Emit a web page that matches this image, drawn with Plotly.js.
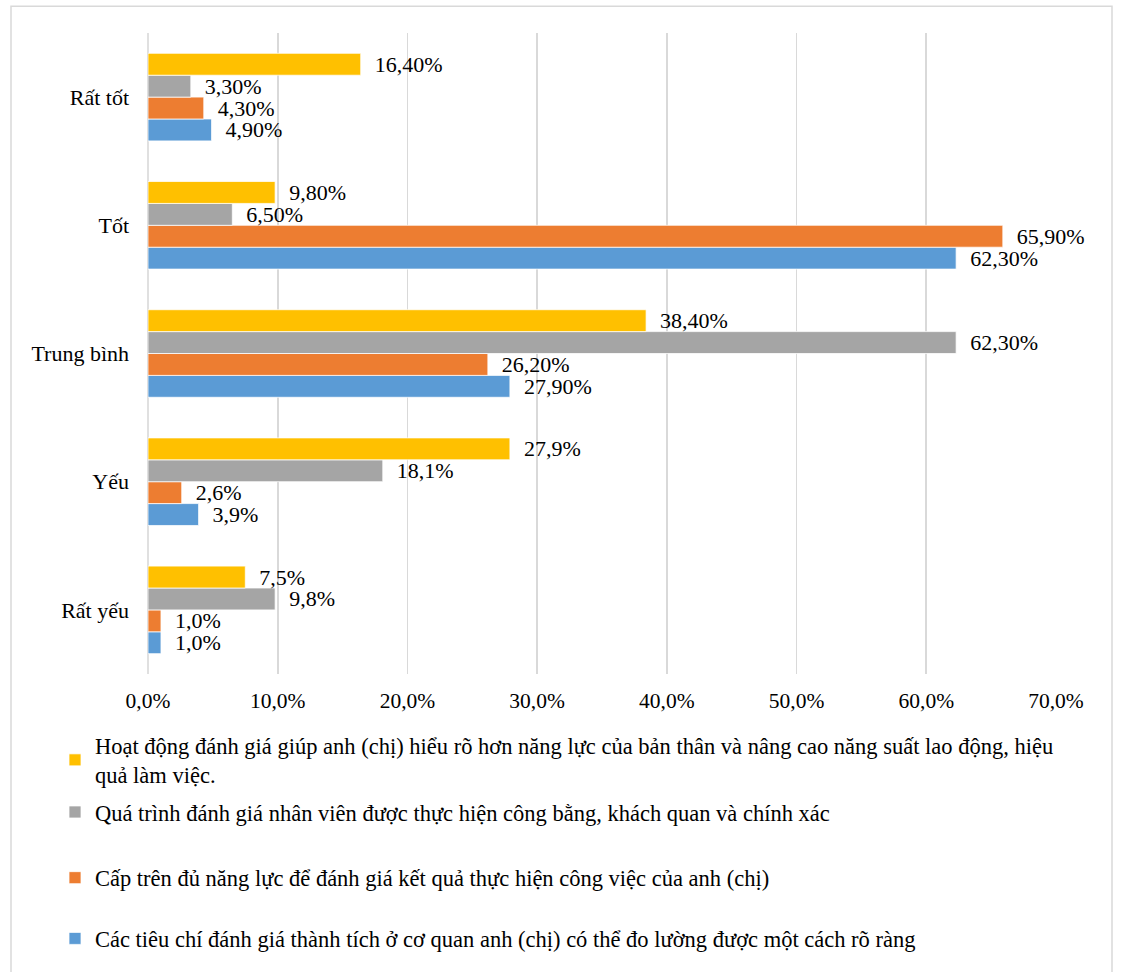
<!DOCTYPE html>
<html>
<head>
<meta charset="utf-8">
<script src="https://cdn.plot.ly/plotly-3.0.1.min.js"></script>
<style>
  html, body { margin: 0; padding: 0; background: #fff; }
  #chart { width: 1121px; height: 972px; }
</style>
</head>
<body>
<div id="chart"></div>
<script>
// Categories listed bottom-to-top (Plotly draws the first category at the bottom)
const categories = ["Rất yếu", "Yếu", "Trung bình", "Tốt", "Rất tốt"];
// Number of decimals shown in the data labels for each category
const labelDecimals = [1, 1, 2, 2, 2];

const seriesNames = [
  "Các tiêu chí đánh giá thành tích ở cơ quan anh (chị) có thể đo lường được một cách rõ ràng",
  "Cấp trên đủ năng lực để đánh giá kết quả thực hiện công việc của anh (chị)",
  "Quá trình đánh giá nhân viên được thực hiện công bằng, khách quan và chính xác",
  "Hoạt động đánh giá giúp anh (chị) hiểu rõ hơn năng lực của bản thân và nâng cao năng suất lao động, hiệu<br>quả làm việc."
];

// Values in percent, same order as categories
const blueValues   = [1.0, 3.9, 27.9, 62.3, 4.9];
const orangeValues = [1.0, 2.6, 26.2, 65.9, 4.3];
const grayValues   = [9.8, 18.1, 62.3, 6.5, 3.3];
const yellowValues = [7.5, 27.9, 38.4, 9.8, 16.4];

const xTickValues = [0, 10, 20, 30, 40, 50, 60, 70];
const xTickLabels = xTickValues.map(v => v.toFixed(1).replace(".", ",") + "%");

const colors = ["#5B9BD5", "#ED7D31", "#A5A5A5", "#FFC000"];
const allValues = [blueValues, orangeValues, grayValues, yellowValues];
const legendIds = ["legend4", "legend3", "legend2", "legend"];

const FONT = "Liberation Serif";

function fmt(v, d) {
  return "\u00a0\u00a0" + v.toFixed(d).replace(".", ",") + "%";
}

const traces = allValues.map((vals, i) => ({
  type: "bar",
  orientation: "h",
  name: seriesNames[i],
  y: categories,
  x: vals,
  text: vals.map((v, k) => fmt(v, labelDecimals[k])),
  textposition: "outside",
  textfont: { family: FONT, size: 22, color: "#000" },
  constraintext: "none",
  cliponaxis: false,
  hoverinfo: "skip",
  marker: { color: colors[i], line: { color: "#ffffff", width: 0.75 } },
  legend: legendIds[i]
}));

const plotTop = 33, plotBottom = 677, plotLeft = 148, plotRight = 1056;
const ph = plotBottom - plotTop, pw = plotRight - plotLeft;
const py = (p) => (plotBottom - p) / ph;
const px = (p) => (p - plotLeft) / pw;

const legendBase = {
  orientation: "v",
  xanchor: "left",
  yanchor: "middle",
  x: px(55),
  bgcolor: "rgba(0,0,0,0)",
  font: { family: FONT, size: 22.5, color: "#000" },
  itemclick: false,
  itemdoubleclick: false
};

const layout = {
  width: 1121,
  height: 972,
  margin: { l: plotLeft, r: 1121 - plotRight, t: plotTop, b: 972 - plotBottom, pad: 0 },
  paper_bgcolor: "#ffffff",
  plot_bgcolor: "#ffffff",
  barmode: "group",
  bargap: 0.317,
  bargroupgap: 0,
  showlegend: true,
  font: { family: FONT, size: 22, color: "#000" },
  xaxis: {
    range: [0, 70],
    tickmode: "array",
    tickvals: xTickValues,
    ticktext: xTickLabels,
    showgrid: true,
    gridcolor: "#d9d9d9",
    gridwidth: 1.6,
    zeroline: false,
    showline: false,
    ticks: "",
    ticklabelstandoff: 11,
    tickfont: { family: FONT, size: 21.5, color: "#000" },
    fixedrange: true
  },
  yaxis: {
    type: "category",
    showgrid: false,
    zeroline: false,
    showline: false,
    ticks: "",
    ticklabelstandoff: 18,
    tickfont: { family: FONT, size: 22, color: "#000" },
    fixedrange: true
  },
  legend:  Object.assign({}, legendBase, { y: py(763.5) }),
  legend2: Object.assign({}, legendBase, { y: py(816) }),
  legend3: Object.assign({}, legendBase, { y: py(882) }),
  legend4: Object.assign({}, legendBase, { y: py(943) }),
  shapes: [
    {
      type: "line", xref: "paper", yref: "paper",
      x0: 0, x1: 0, y0: 0, y1: 1,
      line: { color: "#d9d9d9", width: 1.6 }, layer: "below"
    },
    {
      type: "rect", xref: "paper", yref: "paper",
      x0: px(11), x1: px(1112), y0: py(985), y1: py(6),
      line: { color: "#d9d9d9", width: 1.5 }, fillcolor: "rgba(0,0,0,0)", layer: "below"
    }
  ]
};

Plotly.newPlot("chart", traces, layout, { displayModeBar: false, staticPlot: true });
</script>
</body>
</html>
